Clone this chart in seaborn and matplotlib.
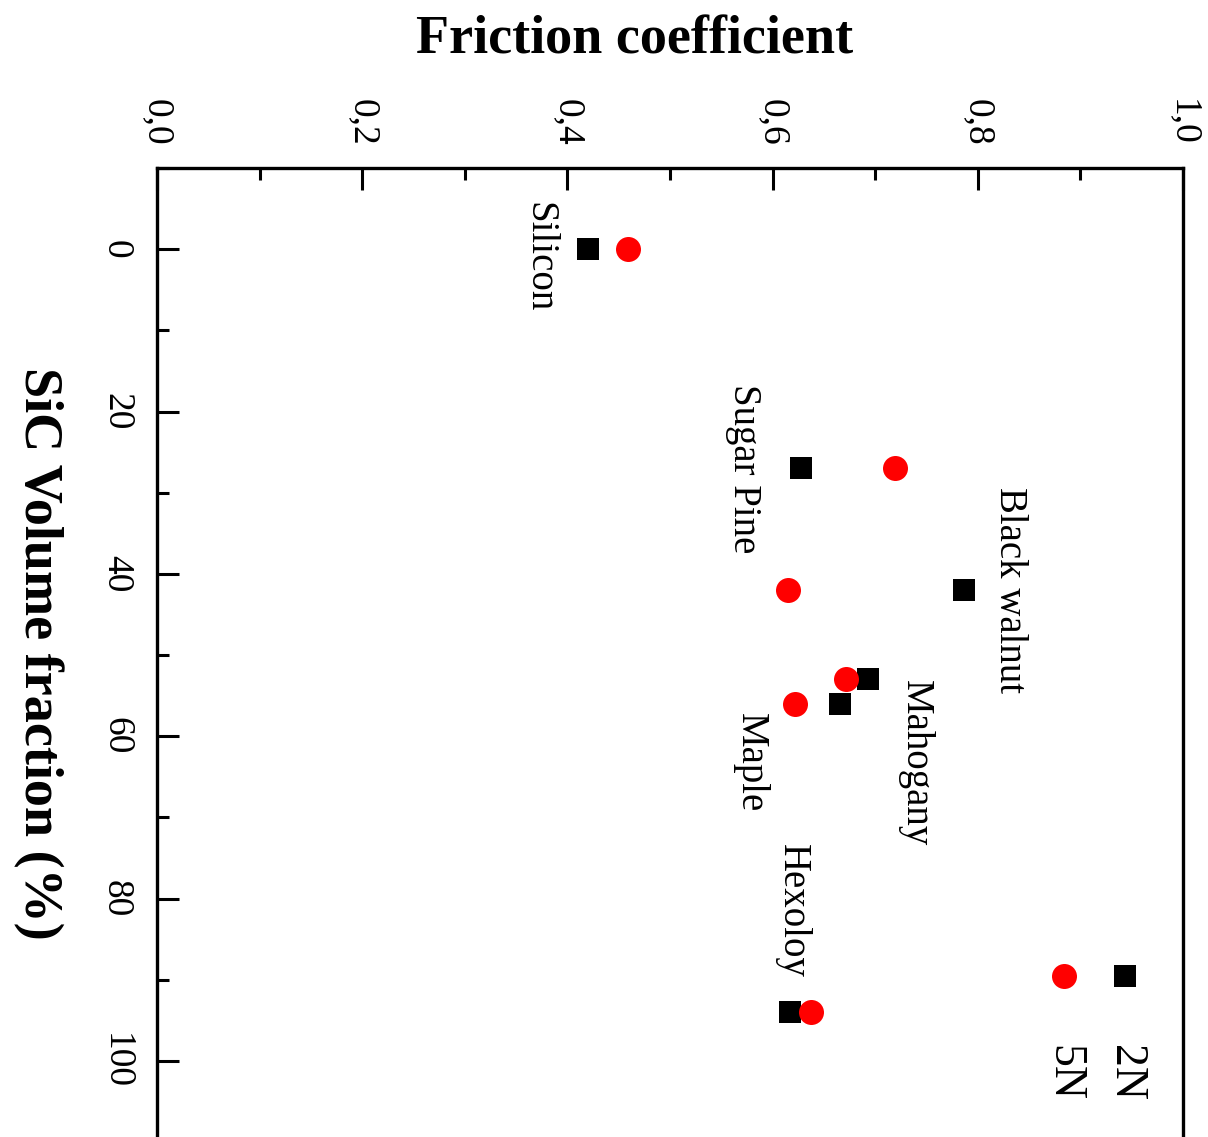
import numpy as np
import pandas as pd
import matplotlib
matplotlib.use("Agg")
import matplotlib.pyplot as plt
from matplotlib.ticker import MultipleLocator, FuncFormatter
import seaborn as sns

# Materials, SiC volume fraction (%) and friction coefficients at two loads
materials = ["Silicon", "Sugar Pine", "Black walnut", "Mahogany", "Maple", "Hexoloy"]
sic_fraction = [0, 27, 42, 53, 56, 94]
friction_2n = [0.420, 0.628, 0.787, 0.693, 0.666, 0.617]
friction_5n = [0.459, 0.719, 0.615, 0.672, 0.622, 0.637]

# Label anchor points (friction, SiC %) for the material names
label_x = [0.372, 0.572, 0.831, 0.739, 0.578, 0.619]
label_y = [1.0, 27.1, 42.0, 63.3, 63.3, 81.5]

sns.set_style("ticks")
plt.rcParams["font.family"] = ["Liberation Serif", "DejaVu Serif"]
plt.rcParams["text.color"] = "black"
plt.rcParams["axes.labelcolor"] = "black"
plt.rcParams["xtick.color"] = "black"
plt.rcParams["ytick.color"] = "black"

df = pd.DataFrame({
    "material": materials * 2,
    "sic": sic_fraction * 2,
    "friction": friction_2n + friction_5n,
    "load": ["2N"] * len(materials) + ["5N"] * len(materials),
})

fig = plt.figure(figsize=(12.08, 11.37), dpi=100)
ax = fig.add_axes([157 / 1208, -5 / 1137, 1026 / 1208, 974 / 1137])

sns.scatterplot(data=df[df["load"] == "2N"], x="friction", y="sic",
                marker="s", color="black", s=256, linewidth=0, ax=ax,
                legend=False, zorder=3)
sns.scatterplot(data=df[df["load"] == "5N"], x="friction", y="sic",
                marker="o", color="red", s=324, linewidth=0, ax=ax,
                legend=False, zorder=4)

ax.set_xlim(0.0, 1.0)
ax.set_ylim(110, -10)

# Axis ticks: x on top, y on left, pointing inward
ax.xaxis.tick_top()
ax.xaxis.set_major_locator(MultipleLocator(0.2))
ax.xaxis.set_minor_locator(MultipleLocator(0.1))
ax.xaxis.set_major_formatter(FuncFormatter(lambda v, p: f"{v:.1f}".replace(".", ",")))
ax.yaxis.set_major_locator(MultipleLocator(20))
ax.yaxis.set_minor_locator(MultipleLocator(10))
ax.yaxis.set_major_formatter(FuncFormatter(lambda v, p: f"{v:.0f}"))

ax.tick_params(axis="both", which="major", direction="in", length=16, width=2.2,
               labelsize=27, color="black", labelcolor="black")
ax.tick_params(axis="both", which="minor", direction="in", length=8.5, width=2.2,
               color="black")
ax.tick_params(axis="x", which="both", top=True, bottom=False, pad=16)
ax.tick_params(axis="y", which="both", left=True, right=False, pad=17)

for lab in ax.get_xticklabels():
    lab.set_rotation(-90)
    lab.set_ha("center")
    lab.set_va("bottom")
for lab in ax.get_yticklabels():
    lab.set_rotation(-90)
    lab.set_ha("right")
    lab.set_va("center")

for sp in ax.spines.values():
    sp.set_visible(True)
    sp.set_linewidth(2.4)
    sp.set_color("black")

# Axis titles
ax.set_xlabel("")
ax.set_ylabel("")
fig.text(635 / 1208, 1 - 40 / 1137, "Friction coefficient", fontsize=39,
         fontweight="bold", ha="center", va="center", color="black")
ax.text(-0.116, 0.5015, "SiC Volume fraction (%)", transform=ax.transAxes,
        fontsize=39, fontweight="bold", rotation=-90, ha="center", va="center",
        color="black")

# Material names
for name, lx, ly in zip(materials, label_x, label_y):
    ax.text(lx, ly, name, fontsize=28, rotation=-90, ha="center", va="center",
            color="black")

# Load legend
ax.scatter([0.9435], [0.170], marker="s", s=256, color="black", linewidth=0,
           transform=ax.transAxes, zorder=5, clip_on=False)
ax.scatter([0.8840], [0.170], marker="o", s=324, color="red", linewidth=0,
           transform=ax.transAxes, zorder=5, clip_on=False)
ax.text(0.9435, 0.071, "2N", transform=ax.transAxes, fontsize=33,
        rotation=-90, ha="center", va="center", color="black")
ax.text(0.8840, 0.071, "5N", transform=ax.transAxes, fontsize=33,
        rotation=-90, ha="center", va="center", color="black")

fig.savefig("out.png", dpi=100, facecolor="white")
